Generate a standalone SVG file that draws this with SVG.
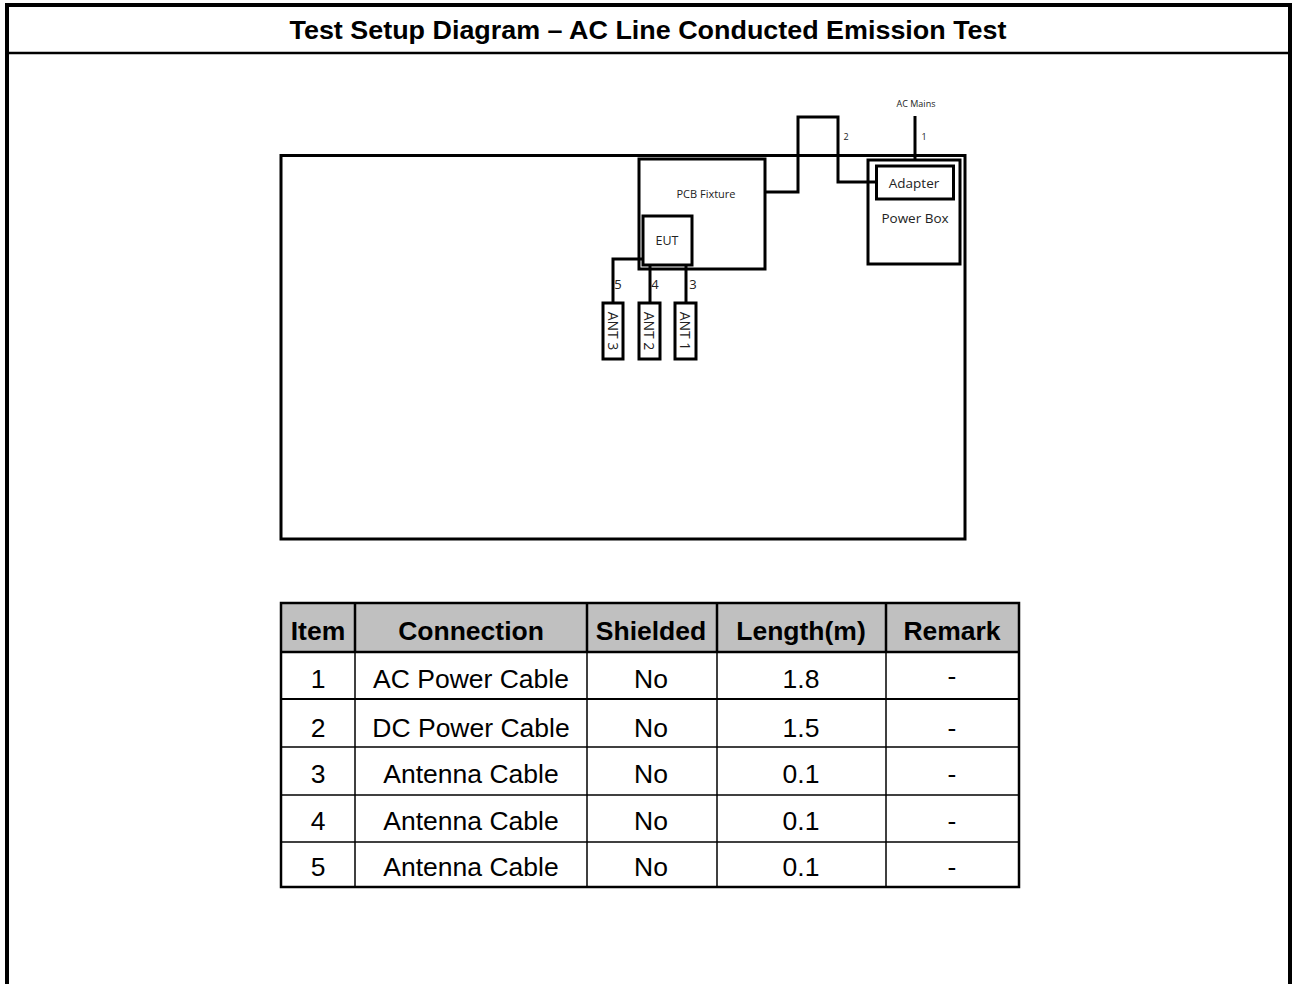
<svg xmlns="http://www.w3.org/2000/svg" width="1295" height="984" viewBox="0 0 1295 984">
<style>
.ln{fill:none;stroke:#000;stroke-width:3}
.bx{fill:#fff;stroke:#000;stroke-width:3}
.sm{font-family:"Open Sans","Noto Sans",sans-serif;fill:#222;text-anchor:middle}
.tb{font-family:"Liberation Sans",Arial,sans-serif;font-size:26.5px;fill:#000;text-anchor:middle}
.th{font-family:"Liberation Sans",Arial,sans-serif;font-size:26.5px;font-weight:bold;fill:#000;text-anchor:middle}
.grid{stroke:#000;stroke-width:1.5;fill:none}
</style>
<rect width="1295" height="984" fill="#fff"/>
<g id="frame">
<path d="M7,984 V5 H1290 V984" fill="none" stroke="#000" stroke-width="4"/>
<line x1="7" y1="53" x2="1290" y2="53" stroke="#000" stroke-width="2.5"/>
<text x="648" y="38.5" class="th" style="font-size:25px" textLength="717" lengthAdjust="spacingAndGlyphs">Test Setup Diagram – AC Line Conducted Emission Test</text>
</g>
<g id="table-area">
<rect id="bench" x="281" y="155.5" width="684" height="383.5" class="ln"/>
</g>
<g id="connectors">
<path class="ln" d="M765,192 H798 V117 H838 V182 H876"/>
<path class="ln" d="M915,116 V160"/>
<path class="ln" d="M643,259 H613 V303"/>
<path class="ln" d="M650,265 V303"/>
<path class="ln" d="M686,265 V303"/>
<text x="846" y="140" class="sm" font-size="9">2</text>
<text x="924" y="140" class="sm" font-size="9">1</text>
<text x="618" y="289" class="sm" font-size="13" fill="#000">5</text>
<text x="655" y="289" class="sm" font-size="13" fill="#000">4</text>
<text x="693" y="289" class="sm" font-size="13" fill="#000">3</text>
</g>
<g id="ac-mains">
<text x="916" y="107" class="sm" font-size="9">AC Mains</text>
</g>
<g id="pcb-fixture">
<rect x="639" y="159" width="126" height="110" class="ln"/>
<text x="706" y="198" class="sm" font-size="11">PCB Fixture</text>
</g>
<g id="eut">
<rect x="643" y="216" width="49" height="49" class="bx"/>
<text x="667" y="245" class="sm" font-size="12.5" fill="#000">EUT</text>
</g>
<g id="power-box">
<rect x="868" y="160" width="92" height="104" class="ln"/>
<text x="915" y="223" class="sm" font-size="13.5" fill="#000">Power Box</text>
</g>
<g id="adapter">
<rect x="876.5" y="166" width="77" height="33" class="bx"/>
<text x="914" y="187.5" class="sm" font-size="13.5" fill="#000">Adapter</text>
</g>
<g id="ant3">
<rect x="603" y="303" width="20" height="56" class="bx"/>
<text x="613" y="331" class="sm" font-size="14" fill="#000" dominant-baseline="central" transform="rotate(90 613 331)">ANT 3</text>
</g>
<g id="ant2">
<rect x="639" y="303" width="21" height="56" class="bx"/>
<text x="649.5" y="331" class="sm" font-size="14" fill="#000" dominant-baseline="central" transform="rotate(90 649.5 331)">ANT 2</text>
</g>
<g id="ant1">
<rect x="675" y="303" width="21" height="56" class="bx"/>
<text x="685.5" y="331" class="sm" font-size="14" fill="#000" dominant-baseline="central" transform="rotate(90 685.5 331)">ANT 1</text>
</g>
<g id="cable-table">
<rect x="281" y="603" width="738" height="49" fill="#c0c0c0"/>
<g class="grid">
<line x1="281" y1="699" x2="1019" y2="699" stroke-width="2"/>
<line x1="281" y1="747" x2="1019" y2="747"/>
<line x1="281" y1="795" x2="1019" y2="795"/>
<line x1="281" y1="842" x2="1019" y2="842"/>
<line x1="355" y1="603" x2="355" y2="887"/>
<line x1="587" y1="603" x2="587" y2="887"/>
<line x1="717" y1="603" x2="717" y2="887"/>
<line x1="886" y1="603" x2="886" y2="887"/>
</g>
<line x1="281" y1="652" x2="1019" y2="652" stroke="#000" stroke-width="2.5"/>
<rect x="281" y="603" width="738" height="284" fill="none" stroke="#000" stroke-width="2.5"/>
<line x1="355" y1="603" x2="355" y2="652" stroke="#000" stroke-width="2.5"/>
<line x1="587" y1="603" x2="587" y2="652" stroke="#000" stroke-width="2.5"/>
<line x1="717" y1="603" x2="717" y2="652" stroke="#000" stroke-width="2.5"/>
<line x1="886" y1="603" x2="886" y2="652" stroke="#000" stroke-width="2.5"/>
<text x="318" y="640" class="th">Item</text>
<text x="471" y="640" class="th">Connection</text>
<text x="651" y="640" class="th">Shielded</text>
<text x="801" y="640" class="th">Length(m)</text>
<text x="952" y="640" class="th">Remark</text>
<text x="318" y="688" class="tb">1</text>
<text x="471" y="688" class="tb">AC Power Cable</text>
<text x="651" y="688" class="tb">No</text>
<text x="801" y="688" class="tb">1.8</text>
<text x="952" y="685" class="tb">-</text>
<text x="318" y="737" class="tb">2</text>
<text x="471" y="737" class="tb">DC Power Cable</text>
<text x="651" y="737" class="tb">No</text>
<text x="801" y="737" class="tb">1.5</text>
<text x="952" y="737" class="tb">-</text>
<text x="318" y="783" class="tb">3</text>
<text x="471" y="783" class="tb">Antenna Cable</text>
<text x="651" y="783" class="tb">No</text>
<text x="801" y="783" class="tb">0.1</text>
<text x="952" y="783" class="tb">-</text>
<text x="318" y="830" class="tb">4</text>
<text x="471" y="830" class="tb">Antenna Cable</text>
<text x="651" y="830" class="tb">No</text>
<text x="801" y="830" class="tb">0.1</text>
<text x="952" y="830" class="tb">-</text>
<text x="318" y="876" class="tb">5</text>
<text x="471" y="876" class="tb">Antenna Cable</text>
<text x="651" y="876" class="tb">No</text>
<text x="801" y="876" class="tb">0.1</text>
<text x="952" y="876" class="tb">-</text>
</g>
</svg>
